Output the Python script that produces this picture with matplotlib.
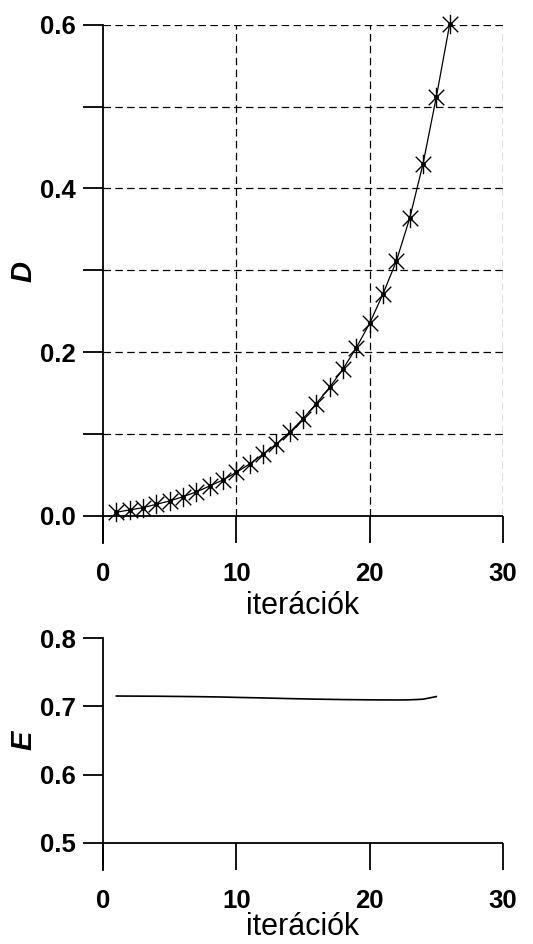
import matplotlib
matplotlib.use("Agg")
import matplotlib.pyplot as plt
from matplotlib.path import Path
import numpy as np

plt.rcParams['font.family'] = ['Liberation Sans', 'DejaVu Sans']

# Data
iter_D = list(range(1, 27))
D_vals = [0.0042, 0.0070, 0.0098, 0.0139, 0.0180, 0.0232, 0.0290, 0.0363, 0.0436, 0.0530,
          0.0632, 0.0750, 0.0876, 0.1019, 0.1185, 0.1369, 0.1569, 0.1793, 0.2053, 0.2351,
          0.2710, 0.3110, 0.3634, 0.4298, 0.5117, 0.6005]
iter_E = list(range(1, 26))
E_vals = [0.7153, 0.7152, 0.7151, 0.7150, 0.7148, 0.7146, 0.7144, 0.7141, 0.7138, 0.7133,
          0.7129, 0.7125, 0.7120, 0.7115, 0.7111, 0.7107, 0.7104, 0.7101, 0.7099, 0.7097,
          0.7096, 0.7095, 0.7097, 0.7106, 0.7145]
x_ticks = [0, 10, 20, 30]
D_ticks = [0.0, 0.1, 0.2, 0.3, 0.4, 0.5, 0.6]
D_labels = ['0.0', '', '0.2', '', '0.4', '', '0.6']
E_ticks = [0.5, 0.6, 0.7, 0.8]
E_labels = ['0.5', '0.6', '0.7', '0.8']
xlabel = 'iterációk'

# asterisk marker: vertical bar + X
star = Path([(0, -1), (0, 1), (-0.8, -0.8), (0.8, 0.8), (-0.8, 0.8), (0.8, -0.8)],
            [Path.MOVETO, Path.LINETO, Path.MOVETO, Path.LINETO, Path.MOVETO, Path.LINETO])

W, H = 533, 944
fig = plt.figure(figsize=(W / 100, H / 100), dpi=100)

def style(ax, ylim, yticks, ylabels, ylab, base, lab_y, xpad):
    ax.set_xlim(0, 30)
    ax.set_ylim(*ylim)
    for s in ['top', 'right', 'bottom']:
        ax.spines[s].set_visible(False)
    ax.spines['left'].set_linewidth(1.3)
    ax.set_xticks(x_ticks)
    ax.set_yticks(yticks)
    ax.set_yticklabels(ylabels)
    ax.tick_params(axis='x', direction='in', length=19.7, width=1.3, pad=14,
                   labelsize=18.5)
    ax.tick_params(axis='y', direction='out', length=14.5, width=1.3, pad=5,
                   labelsize=18.5)
    for t in ax.get_xticklabels() + ax.get_yticklabels():
        t.set_fontweight('bold')
    ax.axhline(base, color='black', lw=1.3, zorder=1)
    ax.set_xlabel(xlabel, fontsize=22, labelpad=xpad)
    ax.set_ylabel(ylab, fontsize=21, fontweight='bold', fontstyle='italic')
    ax.yaxis.set_label_coords((37 - 103) / 400, lab_y)
    ax.patch.set_alpha(0)

# Top panel
ax1 = fig.add_axes([103 / W, 1 - 543 / H, 400 / W, (543 - 24.7) / H])
style(ax1, (-0.0334, 0.6), D_ticks, D_labels, 'D', 0.0, (543 - 271) / (543 - 24.7), 3)
for xv in [10, 20, 30]:
    ax1.plot([xv, xv], [0, 0.6], color='black', lw=0.9, dashes=(6, 3.5), zorder=0.5)
for yv in [0.1, 0.2, 0.3, 0.4, 0.5, 0.6]:
    ax1.plot([0, 30], [yv, yv], color='black', lw=0.9, dashes=(6, 3.5), zorder=0.5)
ax1.plot(iter_D, D_vals, color='black', lw=0.9, marker=star, markersize=14,
         markeredgewidth=1.0, zorder=3, clip_on=False)
ax1.plot(iter_D, D_vals, linestyle='none', color='black', marker='o', markersize=2.5,
         zorder=4, clip_on=False)

# Bottom panel
ax2 = fig.add_axes([103 / W, 1 - 870 / H, 400 / W, (870 - 638.3) / H])
style(ax2, (0.46, 0.8), E_ticks, E_labels, 'E', 0.5, (870 - 740.5) / (870 - 638.3), -1)
ax2.plot(iter_E, E_vals, color='black', lw=1.2, zorder=3)

fig.savefig('out.png', dpi=100)
